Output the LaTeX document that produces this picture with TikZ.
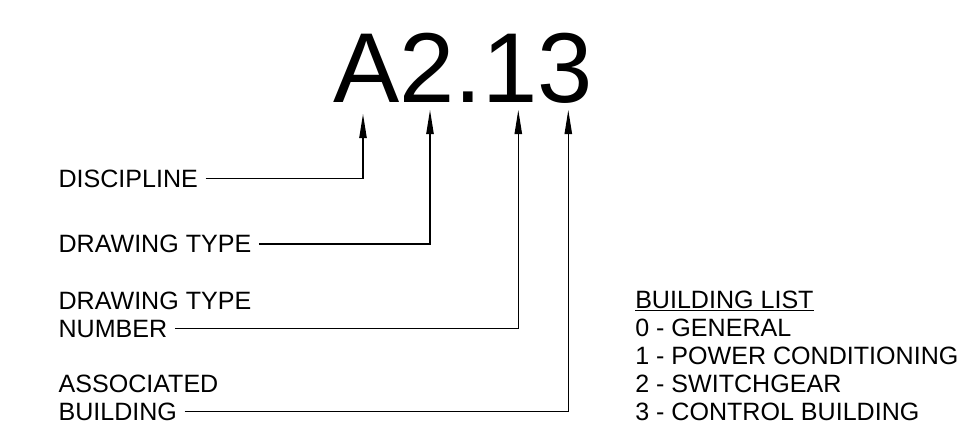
\documentclass[tikz,border=0pt]{standalone}
\usepackage{fontspec}
\setmainfont{Liberation Sans}
\usetikzlibrary{arrows.meta}
\tikzset{
	tagnode/.style={
			anchor=base west,
			inner xsep=5.5pt,
			inner ysep=0pt,
			font=\fontsize{18.8}{21}\selectfont
		},
	codenode/.style={
			anchor=base west,
			inner sep=0pt,
			font=\fontsize{74.5}{80}\selectfont
		},
	listnode/.style={
			anchor=base west,
			inner sep=0pt,
			align=left,
			font=\fontsize{18.8}{21}\selectfont
		},
	leader/.style={
			line width=0.9pt,
			-{Triangle[length=18pt, width=5.5pt]}
		}
}

\begin{document}
\begin{tikzpicture}[x=0.75pt, y=-0.75pt]
\useasboundingbox (0,0) rectangle (968,429);

\node[codenode] (code) at (333,102) {A2.13};

\coordinate (tipA) at (363,114);
\coordinate (tipB) at (430,110);
\coordinate (tipC) at (518.3,110);
\coordinate (tipD) at (568.3,110);

\node[tagnode] (disc) at (51,187) {DISCIPLINE};
\node[tagnode] (dtype) at (51,252.7) {DRAWING TYPE};
\node[tagnode] (dnumtop) at (51,309.3) {DRAWING TYPE};
\node[tagnode] (dnum) at (51,337.3) {NUMBER};
\node[tagnode] (bldtop) at (51,392) {ASSOCIATED};
\node[tagnode] (bld) at (51,420) {BUILDING};

\node[listnode] (list) at (635,420.5) {\underline{BUILDING LIST}\\0 - GENERAL\\1 - POWER CONDITIONING\\2 - SWITCHGEAR\\3 - CONTROL BUILDING};

\draw[leader] (disc.east) -| (tipA);
\draw[leader] (dtype.east) -| (tipB);
\draw[leader] (dnum.east) -| (tipC);
\draw[leader] (bld.east) -| (tipD);
\end{tikzpicture}
\end{document}
